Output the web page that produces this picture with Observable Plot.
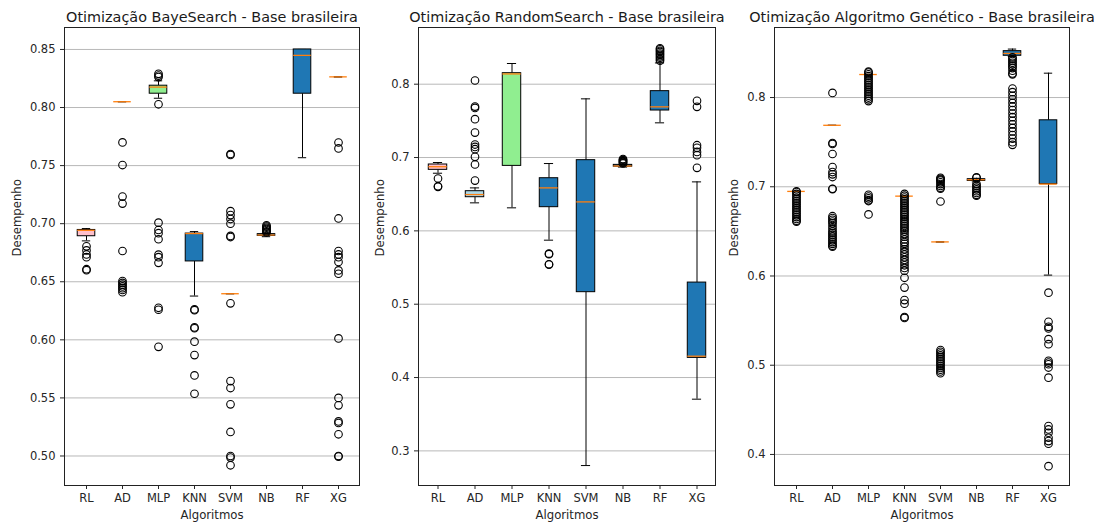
<!DOCTYPE html>
<html>
<head>
<meta charset="utf-8">
<script src="https://cdn.jsdelivr.net/npm/d3@7"></script>
<script src="https://cdn.jsdelivr.net/npm/@observablehq/plot@0.6"></script>
<style>
  html, body { margin: 0; padding: 0; background: #fff; }
  #wrap { position: relative; width: 1107px; height: 526px; overflow: hidden; background: #fff; }
  #wrap svg { position: absolute; top: 0; }
</style>
</head>
<body>
<div id="wrap"></div>
<script>
// ---------------- DATA ----------------
const categories = ["RL", "AD", "MLP", "KNN", "SVM", "NB", "RF", "XG"];
const boxFills = ["pink", "lightblue", "lightgreen", "#1f77b4", "#1f77b4", "#1f77b4", "#1f77b4", "#1f77b4"];

// Panel 1 : BayeSearch
const bsTitle = "Otimização BayeSearch - Base brasileira";
const bsTicks = [0.50, 0.55, 0.60, 0.65, 0.70, 0.75, 0.80, 0.85];
const bsLow  = [0.6852, 0.805, 0.8080, 0.6377, 0.6397, 0.6888, 0.7568, 0.8264];
const bsQ1   = [0.6892, 0.805, 0.8119, 0.6675, 0.6397, 0.6895, 0.8119, 0.8264];
const bsMed  = [0.6943, 0.805, 0.8176, 0.6915, 0.6397, 0.6903, 0.8449, 0.8264];
const bsQ3   = [0.6946, 0.805, 0.8188, 0.6915, 0.6397, 0.6910, 0.8500, 0.8264];
const bsHigh = [0.6958, 0.805, 0.8230, 0.6932, 0.6397, 0.6918, 0.8500, 0.8264];
const bsOut = [
  [0.6805, 0.6770, 0.6735, 0.6712, 0.6608, 0.6600],
  [0.7700, 0.7505, 0.7233, 0.7173, 0.6765, 0.6506, 0.6490, 0.6475, 0.6460, 0.6445, 0.6430, 0.6410],
  [0.8290, 0.8275, 0.8262, 0.8028, 0.7009, 0.6946, 0.6918, 0.6866, 0.6733, 0.6712, 0.6663, 0.6276, 0.6259, 0.5940],
  [0.6262, 0.6255, 0.6107, 0.6100, 0.5984, 0.5869, 0.5694, 0.5536],
  [0.7600, 0.7592, 0.7108, 0.7074, 0.7040, 0.7000, 0.6895, 0.6885, 0.6314, 0.5645, 0.5585, 0.5445, 0.5207, 0.5000, 0.4986, 0.4920],
  [0.6985, 0.6975, 0.6965, 0.6955, 0.6945, 0.6935, 0.6925],
  [],
  [0.7699, 0.7648, 0.7045, 0.6765, 0.6735, 0.6712, 0.6670, 0.6598, 0.6569, 0.6012, 0.5500, 0.5436, 0.5298, 0.5284, 0.5187, 0.5000, 0.4995]
];

// Panel 2 : RandomSearch
const rsTitle = "Otimização RandomSearch - Base brasileira";
const rsTicks = [0.3, 0.4, 0.5, 0.6, 0.7, 0.8];
const rsLow  = [0.6786, 0.6382, 0.6314, 0.5873, 0.2800, 0.6870, 0.7473, 0.3705];
const rsQ1   = [0.6832, 0.6459, 0.6886, 0.6323, 0.5164, 0.6875, 0.7641, 0.4268];
const rsMed  = [0.6875, 0.6495, 0.8140, 0.6586, 0.6395, 0.6885, 0.7691, 0.4291];
const rsQ3   = [0.6905, 0.6541, 0.8150, 0.6718, 0.6964, 0.6900, 0.7905, 0.5295];
const rsHigh = [0.6932, 0.6586, 0.8282, 0.6918, 0.7800, 0.6905, 0.8290, 0.6668];
const rsOut = [
  [0.6714, 0.6609, 0.6600],
  [0.8050, 0.7695, 0.7677, 0.7523, 0.7340, 0.7177, 0.7145, 0.7114, 0.7009, 0.6905, 0.6686],
  [],
  [0.5690, 0.5682, 0.5545, 0.5540],
  [],
  [0.6980, 0.6970, 0.6960, 0.6950, 0.6940, 0.6930, 0.6920],
  [0.8490, 0.8475, 0.8455, 0.8440, 0.8418, 0.8400, 0.8380, 0.8360, 0.8340, 0.8320],
  [0.7773, 0.7691, 0.7168, 0.7132, 0.7077, 0.7032, 0.6859]
];

// Panel 3 : Algoritmo Genético
const gaTitle = "Otimização Algoritmo Genético - Base brasileira";
const gaTicks = [0.4, 0.5, 0.6, 0.7, 0.8];
const gaLow  = [0.6948, 0.7689, 0.8258, 0.6895, 0.6382, 0.7055, 0.8460, 0.6010];
const gaQ1   = [0.6948, 0.7689, 0.8258, 0.6895, 0.6382, 0.7065, 0.8468, 0.7030];
const gaMed  = [0.6948, 0.7689, 0.8258, 0.6895, 0.6382, 0.7079, 0.8494, 0.7030];
const gaQ3   = [0.6948, 0.7689, 0.8258, 0.6895, 0.6382, 0.7085, 0.8520, 0.7745];
const gaHigh = [0.6948, 0.7689, 0.8258, 0.6895, 0.6382, 0.7095, 0.8543, 0.8273];
const gaOut = [
  [0.695, 0.694, 0.692, 0.690, 0.688, 0.686, 0.684, 0.682, 0.680, 0.678, 0.676, 0.674, 0.672, 0.670, 0.668, 0.666, 0.664, 0.662, 0.661],
  [0.8052, 0.7490, 0.7480, 0.7367, 0.7221, 0.7165, 0.7139, 0.7109, 0.6978, 0.6974, 0.667, 0.665, 0.663, 0.661, 0.659, 0.656, 0.653, 0.650, 0.648, 0.646, 0.644, 0.642, 0.640, 0.638, 0.636, 0.634, 0.633],
  [0.829, 0.828, 0.826, 0.824, 0.822, 0.820, 0.818, 0.816, 0.814, 0.812, 0.810, 0.808, 0.806, 0.804, 0.802, 0.800, 0.798, 0.796, 0.691, 0.689, 0.687, 0.685, 0.684, 0.669],
  [0.692, 0.690, 0.688, 0.686, 0.684, 0.682, 0.680, 0.678, 0.676, 0.674, 0.672, 0.670, 0.668, 0.666, 0.664, 0.662, 0.660, 0.658, 0.656, 0.654, 0.652, 0.650, 0.647, 0.644, 0.641, 0.638, 0.636, 0.633, 0.630, 0.627, 0.624, 0.621, 0.618, 0.615, 0.612, 0.609, 0.606, 0.598, 0.587, 0.573, 0.569, 0.554, 0.553],
  [0.710, 0.709, 0.708, 0.707, 0.705, 0.703, 0.701, 0.699, 0.698, 0.6835, 0.517, 0.515, 0.513, 0.511, 0.509, 0.507, 0.505, 0.503, 0.501, 0.499, 0.497, 0.495, 0.493, 0.491],
  [0.7105, 0.7100, 0.703, 0.701, 0.699, 0.697, 0.695, 0.693, 0.691, 0.690],
  [0.845, 0.843, 0.841, 0.839, 0.837, 0.835, 0.833, 0.830, 0.827, 0.826, 0.810, 0.806, 0.802, 0.798, 0.794, 0.790, 0.786, 0.782, 0.778, 0.774, 0.770, 0.766, 0.762, 0.758, 0.754, 0.750, 0.747],
  [0.5813, 0.5487, 0.5430, 0.5412, 0.5292, 0.5236, 0.5049, 0.5030, 0.5011, 0.4974, 0.4861, 0.4318, 0.4280, 0.4243, 0.4187, 0.4150, 0.4120, 0.3869]
];

// ---------------- DRAW ----------------
const FONT = "DejaVu Sans";
function panel(p) {
  const innerW = p.width - p.marginLeft - p.marginRight;
  const band = innerW / categories.length;
  const boxes = categories.map((c, i) => ({
    cat: c, lo: p.low[i], q1: p.q1[i], med: p.med[i], q3: p.q3[i], hi: p.high[i], fill: boxFills[i]
  }));
  const outs = categories.flatMap((c, i) => p.out[i].map(v => ({cat: c, v})));
  const svg = Plot.plot({
    width: p.width,
    height: 526,
    marginTop: 27,
    marginBottom: 41,
    marginLeft: p.marginLeft,
    marginRight: p.marginRight,
    style: {fontFamily: FONT, fontSize: "11.5px", color: "#262626", background: "transparent"},
    x: {domain: categories, padding: 0, label: null},
    y: {domain: p.domain, label: null},
    marks: [
      Plot.gridY(p.ticks, {stroke: "#b8b8b8", strokeOpacity: 1, strokeWidth: 1}),
      Plot.ruleX(boxes, {x: "cat", y1: "lo", y2: "q1", stroke: "black", strokeWidth: 1}),
      Plot.ruleX(boxes, {x: "cat", y1: "q3", y2: "hi", stroke: "black", strokeWidth: 1}),
      Plot.tickY(boxes, {x: "cat", y: "lo", stroke: "black", strokeWidth: 1, insetLeft: band * 0.375, insetRight: band * 0.375}),
      Plot.tickY(boxes, {x: "cat", y: "hi", stroke: "black", strokeWidth: 1, insetLeft: band * 0.375, insetRight: band * 0.375}),
      Plot.barY(boxes, {x: "cat", y1: "q1", y2: "q3", fill: "fill", stroke: "black", strokeWidth: 1, insetLeft: band * 0.25, insetRight: band * 0.25}),
      Plot.tickY(boxes, {x: "cat", y: "med", stroke: "#ff7f0e", strokeWidth: 1.3, insetLeft: band * 0.25, insetRight: band * 0.25}),
      Plot.dot(outs, {x: "cat", y: "v", r: 3.8, stroke: "black", strokeWidth: 1.1, fill: "none"}),
      Plot.frame({stroke: "#222", strokeWidth: 1}),
      Plot.axisY({ticks: p.ticks, tickFormat: d3.format(p.fmt), tickSize: 4, tickPadding: 5, fontSize: 11.5, label: null}),
      Plot.axisX({tickSize: 4, tickPadding: 4, fontSize: 11.5, label: null}),
      Plot.text([p.title], {frameAnchor: "top", dy: -6, lineAnchor: "bottom", fontSize: 14.4, fill: "#1a1a1a"}),
      Plot.text(["Desempenho"], {frameAnchor: "left", dx: p.ylabDx, rotate: -90, fontSize: 11.7, fill: "#262626"}),
      Plot.text(["Algoritmos"], {frameAnchor: "bottom", dy: 33, fontSize: 11.7, fill: "#262626"})
    ]
  });
  svg.style.left = p.left + "px";
  return svg;
}

const wrap = document.getElementById("wrap");
wrap.appendChild(panel({
  left: 0, width: 370, marginLeft: 64, marginRight: 11,
  domain: [0.4746, 0.8689], ticks: bsTicks, fmt: ".2f", ylabDx: -47,
  title: bsTitle, low: bsLow, q1: bsQ1, med: bsMed, q3: bsQ3, high: bsHigh, out: bsOut
}));
wrap.appendChild(panel({
  left: 365, width: 360, marginLeft: 53, marginRight: 10,
  domain: [0.2528, 0.8773], ticks: rsTicks, fmt: ".1f", ylabDx: -38,
  title: rsTitle, low: rsLow, q1: rsQ1, med: rsMed, q3: rsQ3, high: rsHigh, out: rsOut
}));
wrap.appendChild(panel({
  left: 725, width: 382, marginLeft: 49, marginRight: 38,
  domain: [0.3652, 0.8785], ticks: gaTicks, fmt: ".1f", ylabDx: -40,
  title: gaTitle, low: gaLow, q1: gaQ1, med: gaMed, q3: gaQ3, high: gaHigh, out: gaOut
}));
</script>
</body>
</html>
